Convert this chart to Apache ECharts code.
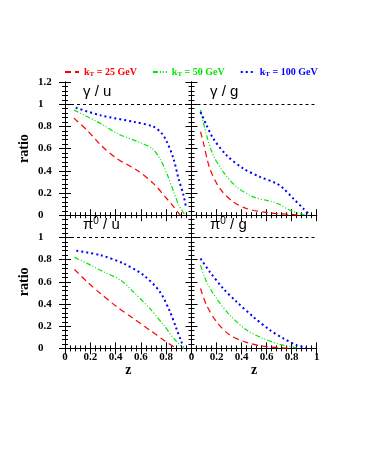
<!DOCTYPE html>
<html>
<head>
<meta charset="utf-8">
<script src="https://cdn.jsdelivr.net/npm/echarts@6/dist/echarts.min.js"></script>
<style>html,body{margin:0;padding:0;background:#fff}#c{width:366px;height:474px}</style>
</head>
<body>
<div id="c"></div>
<script>
// ---- data (z, ratio) ----
const seriesNames = ['kT = 25 GeV', 'kT = 50 GeV', 'kT = 100 GeV'];
const panelTitles = ['γ / u', 'γ / g', 'π0 / u', 'π0 / g'];
const xTicks = [0, 0.2, 0.4, 0.6, 0.8, 1];
const yTicks = [0, 0.2, 0.4, 0.6, 0.8, 1, 1.2];

const gammaU_25 = [[0.07,0.875],[0.18,0.76],[0.28,0.635],[0.41,0.51],[0.57,0.405],[0.70,0.285],[0.80,0.155],[0.86,0.075],[0.91,0.0]];
const gammaU_50 = [[0.07,0.948],[0.28,0.827],[0.41,0.737],[0.59,0.656],[0.69,0.6],[0.75,0.51],[0.80,0.39],[0.86,0.21],[0.90,0.09],[0.95,0.0]];
const gammaU_100 = [[0.085,0.968],[0.28,0.9],[0.54,0.842],[0.70,0.797],[0.765,0.737],[0.805,0.662],[0.857,0.512],[0.897,0.331],[0.937,0.18],[0.955,0.08]];

const gammaG_25 = [[0.072,0.752],[0.093,0.662],[0.146,0.421],[0.226,0.241],[0.333,0.12],[0.44,0.06],[0.6,0.024],[0.813,0.005],[0.87,0]];
const gammaG_50 = [[0.072,0.948],[0.093,0.842],[0.12,0.722],[0.173,0.541],[0.253,0.391],[0.36,0.256],[0.493,0.165],[0.653,0.12],[0.706,0.096],[0.786,0.045],[0.893,0.006],[0.93,0]];
const gammaG_100 = [[0.072,0.93],[0.12,0.812],[0.173,0.692],[0.28,0.541],[0.413,0.421],[0.546,0.346],[0.68,0.286],[0.733,0.241],[0.813,0.15],[0.893,0.06],[0.946,0]];

const pionU_25 = [[0.075,0.711],[0.175,0.6],[0.28,0.495],[0.41,0.375],[0.54,0.27],[0.67,0.165],[0.78,0.075],[0.86,0.015],[0.89,0]];
const pionU_50 = [[0.075,0.82],[0.175,0.766],[0.305,0.69],[0.44,0.615],[0.54,0.51],[0.67,0.36],[0.78,0.21],[0.86,0.09],[0.91,0.03],[0.94,0]];
const pionU_100 = [[0.09,0.88],[0.28,0.84],[0.46,0.766],[0.62,0.66],[0.75,0.51],[0.83,0.33],[0.88,0.18],[0.92,0.06],[0.935,0.015]];

const pionG_25 = [[0.072,0.54],[0.12,0.39],[0.2,0.24],[0.306,0.12],[0.44,0.054],[0.573,0.02],[0.786,0]];
const pionG_50 = [[0.072,0.75],[0.12,0.6],[0.2,0.45],[0.306,0.3],[0.44,0.165],[0.573,0.09],[0.706,0.036],[0.84,0.005]];
const pionG_100 = [[0.072,0.81],[0.146,0.69],[0.253,0.54],[0.36,0.42],[0.493,0.285],[0.626,0.165],[0.733,0.09],[0.84,0.03],[0.92,0.005]];

const panelData = [
  [gammaU_25, gammaU_50, gammaU_100],
  [gammaG_25, gammaG_50, gammaG_100],
  [pionU_25, pionU_50, pionU_100],
  [pionG_25, pionG_50, pionG_100]
];

// ---- styling ----
const colors = ['#ff0000', '#00e600', '#0000ff'];
const lineStyles = [
  {width: 1.2, type: [6, 4]},
  {width: 1.2, type: [5, 2, 1, 2, 1, 2]},
  {width: 2, type: [2, 3]}
];
const serifBold = {fontFamily: 'Liberation Serif', fontWeight: 'bold', color: '#000'};

const grids = [
  {left: 65, top: 82, width: 126.5, height: 133.2},
  {left: 191.5, top: 82, width: 125.2, height: 133.2},
  {left: 65, top: 215.2, width: 126.5, height: 133.2},
  {left: 191.5, top: 215.2, width: 125.2, height: 133.2}
];

const fmt = v => String(+(+v).toFixed(1));
const xAxes = [], yAxes = [];
const baseAxis = {
  type: 'value',
  axisLine: {show: true, lineStyle: {color: '#000', width: 1}},
  axisTick: {show: true, inside: true, length: 6, lineStyle: {color: '#000', width: 1}},
  minorTick: {show: true, splitNumber: 5, length: 3, lineStyle: {color: '#000', width: 1}},
  splitLine: {show: false},
  minorSplitLine: {show: false}
};
for (let i = 0; i < 4; i++) {
  const isBottom = i >= 2, isLeft = i % 2 === 0;
  xAxes.push(Object.assign({}, baseAxis, {
    gridIndex: i, position: 'bottom', min: 0, max: 1, interval: 0.2,
    name: isBottom ? 'z' : '', nameLocation: 'middle', nameGap: 6,
    nameTextStyle: Object.assign({fontSize: 14}, serifBold),
    axisLabel: {show: isBottom, margin: 3, fontSize: 11, ...serifBold, showMinLabel: true, showMaxLabel: true,
      formatter: v => (isLeft && Math.abs(v - 1) < 1e-6) ? '' : fmt(v)}
  }));
  yAxes.push(Object.assign({}, baseAxis, {
    gridIndex: i, position: 'left', min: 0, max: 1.2, interval: 0.2,
    name: isLeft ? 'ratio' : '', nameLocation: 'middle', nameRotate: 90, nameGap: 34,
    nameTextStyle: Object.assign({fontSize: 14}, serifBold),
    axisLabel: {show: isLeft, margin: 27, align: 'left', fontSize: 11, ...serifBold, showMinLabel: true, showMaxLabel: true,
      formatter: v => (isBottom && Math.abs(v - 1.2) < 1e-6) ? '' : fmt(v)}
  }));
}
for (let i = 0; i < 4; i++) {
  xAxes.push(Object.assign({}, baseAxis, {gridIndex: i, position: 'top', min: 0, max: 1, interval: 0.2, axisLabel: {show: false}}));
  yAxes.push(Object.assign({}, baseAxis, {gridIndex: i, position: 'right', min: 0, max: 1.2, interval: 0.2, axisLabel: {show: false}}));
}

const series = [];
panelData.forEach((curves, p) => {
  curves.forEach((pts, k) => {
    const s = {
      type: 'line', name: seriesNames[k], xAxisIndex: p, yAxisIndex: p,
      data: pts, showSymbol: false, symbol: 'none', smooth: 0.3,
      color: colors[k],
      lineStyle: Object.assign({color: colors[k]}, lineStyles[k]),
      animation: false, silent: true
    };
    if (k === 0) {
      s.markLine = {
        silent: true, symbol: 'none', label: {show: false}, animation: false,
        lineStyle: {color: '#000', type: [3, 3], width: 1},
        data: [{yAxis: 1}]
      };
    }
    series.push(s);
  });
});

const titlePos = [[83, 84], [210, 84], [83, 216], [210, 216]];
const titleRich = {
  t: {fontFamily: 'Liberation Sans', fontSize: 15, color: '#000'},
  sup: {fontFamily: 'Liberation Sans', fontSize: 10, color: '#000', verticalAlign: 'top', padding: [0, 0, 8, 0]}
};
const graphics = panelTitles.map((t, i) => {
  const m = t.match(/^(.)0 (.*)$/);
  const text = m ? '{t|' + m[1] + '}{sup|0}{t| ' + m[2] + '}' : '{t|' + t + '}';
  return {type: 'text', left: titlePos[i][0], top: titlePos[i][1], silent: true,
    style: {text: text, rich: titleRich}};
});

const chart = echarts.init(document.getElementById('c'), null, {renderer: 'canvas'});
chart.setOption({
  backgroundColor: '#fff',
  animation: false,
  grid: grids,
  xAxis: xAxes,
  yAxis: yAxes,
  legend: {
    data: seriesNames.map((n, k) => ({name: n, textStyle: {color: colors[k], rich: {k: {color: colors[k]}, s: {color: colors[k]}}}})),
    left: 59, top: 62, itemWidth: 14, itemHeight: 8, itemGap: 15,
    selectedMode: false,
    itemStyle: {opacity: 0},
    formatter: n => '{k|k}{s|T}{k|' + n.slice(2) + '}',
    textStyle: {
      rich: {
        k: {fontFamily: 'Liberation Serif', fontWeight: 'bold', fontSize: 10},
        s: {fontFamily: 'Liberation Serif', fontWeight: 'bold', fontSize: 7, padding: [5, 0, 0, 0]}
      }
    }
  },
  series: series,
  graphic: graphics
});
</script>
</body>
</html>
